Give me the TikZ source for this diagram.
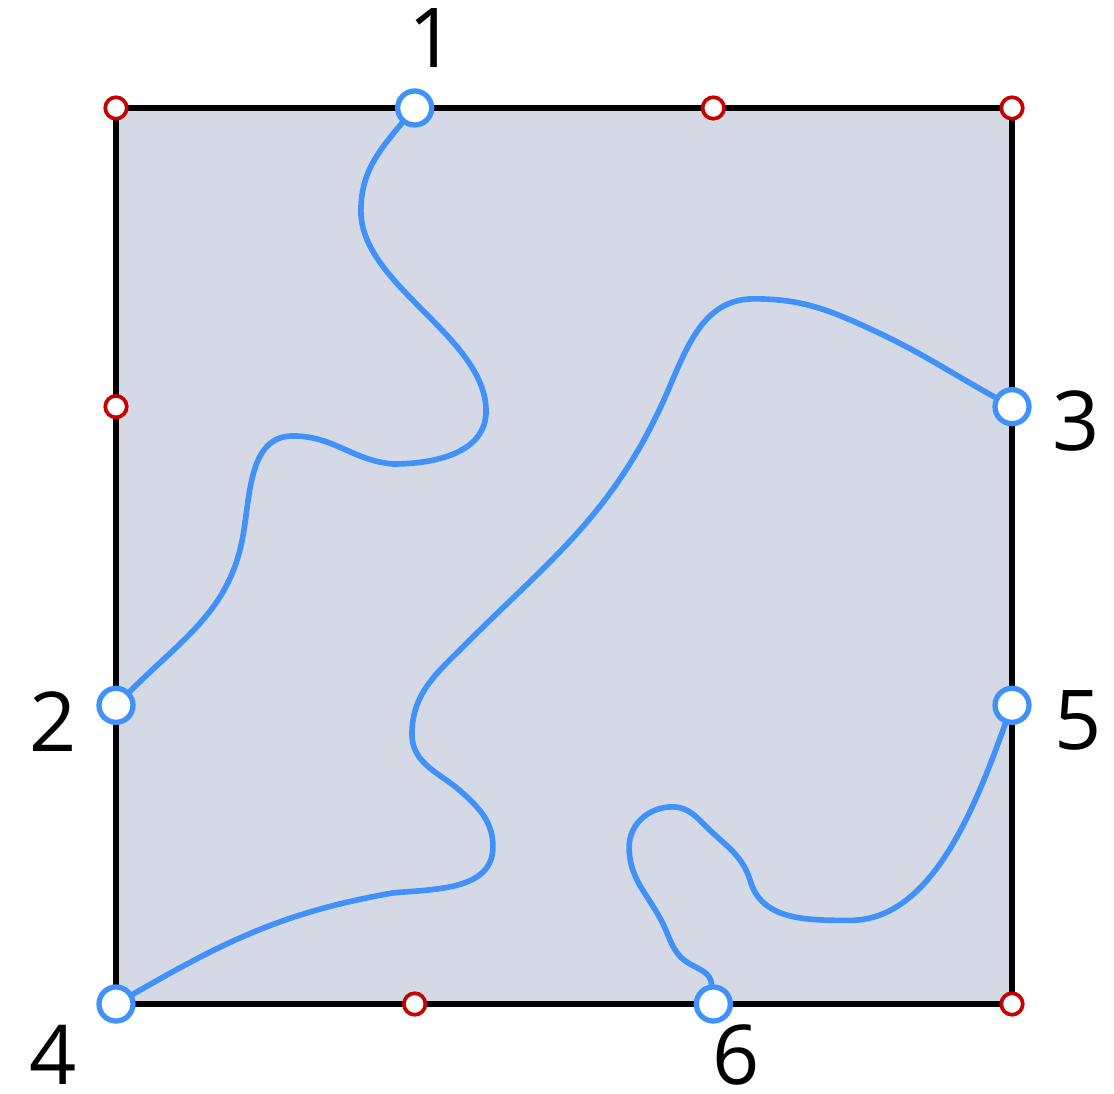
\documentclass[tikz,border=0pt]{standalone}
\usepackage{fontspec}
\setmainfont{Open Sans}
\usepackage{tikz}
\usetikzlibrary{positioning, calc}
\definecolor{mypanel}{RGB}{213,217,229}
\definecolor{myblue}{RGB}{64,145,250}
\definecolor{myred}{RGB}{200,0,0}
\tikzset{
  panel/.style={draw=black, fill=mypanel, line width=3.3pt},
  griddot/.style={circle, draw=myred, fill=white, inner sep=0pt,
    minimum size=0.43cm, line width=2.1pt},
  portdot/.style={circle, draw=myblue, fill=white, inner sep=0pt,
    minimum size=0.68cm, line width=3pt},
  portlabel/.style={inner sep=0pt, font=\fontsize{47}{56}\selectfont},
  wire/.style={myblue, line width=3.2pt, line cap=round}
}

\begin{document}
\begin{tikzpicture}[x=5.9733cm, y=5.9733cm]
  \useasboundingbox (-0.3884,-0.3013) rectangle (3.3415,3.3616);
  % Square
  \draw[panel] (0,0) rectangle (3,3);
  % Grid points
  \node[griddot] (g1) at (0,3) {};
  \node[griddot] (g2) at (2,3) {};
  \node[griddot] (g3) at (3,3) {};
  \node[griddot] (g4) at (0,2) {};
  \node[griddot] (g5) at (1,0) {};
  \node[griddot] (g6) at (3,0) {};
  % Ports
  \node[portdot] (n1) at (1,3) {};
  \node[portdot] (n2) at (0,1) {};
  \node[portdot] (n3) at (3,2) {};
  \node[portdot] (n4) at (0,0) {};
  \node[portdot] (n5) at (3,1) {};
  \node[portdot] (n6) at (2,0) {};
  % Labels
  \node[portlabel] (l1) at (1.058,3.234) {1};
  \node[portlabel] (l2) at (-0.211,0.944) {2};
  \node[portlabel] (l3) at (3.214,1.952) {3};
  \node[portlabel] (l4) at (-0.211,-0.170) {4};
  \node[portlabel] (l5) at (3.221,0.951) {5};
  \node[portlabel] (l6) at (2.076,-0.170) {6};
  % Wires
  \draw[wire] (n1) to[out=-130,in=90] (0.820,2.655)
    to[out=-90,in=90,looseness=0.8] (1.239,1.985)
    to[out=-90,in=0] (0.927,1.808) to[out=175,in=0] (0.593,1.902)
    to[out=180,in=80] (0.425,1.567) to[out=-100,in=45] (n2);
  \draw[wire] (n3) to[out=151,in=-25] (2.541,2.253)
    to[out=155,in=0] (2.136,2.361)
    to[out=180,in=65] (1.825,2.002) to[out=-115,in=45] (1.165,1.199)
    to[out=-135,in=90] (0.991,0.904) to[out=-90,in=137] (1.165,0.703)
    to[out=-43,in=90] (1.262,0.526) to[out=-90,in=5] (0.927,0.372)
    to[out=-170,in=30] (n4);
  \draw[wire] (n5) to[out=-110,in=0,looseness=0.85] (2.458,0.280)
    to[out=180,in=-75] (2.123,0.415) to[out=108,in=-45] (1.975,0.595)
    to[out=135,in=0] (1.862,0.660) to[out=180,in=90] (1.718,0.526)
    to[out=-90,in=118] (1.825,0.281) to[out=-62,in=150] (1.920,0.135)
    to[out=-30,in=95] (n6);
\end{tikzpicture}
\end{document}
